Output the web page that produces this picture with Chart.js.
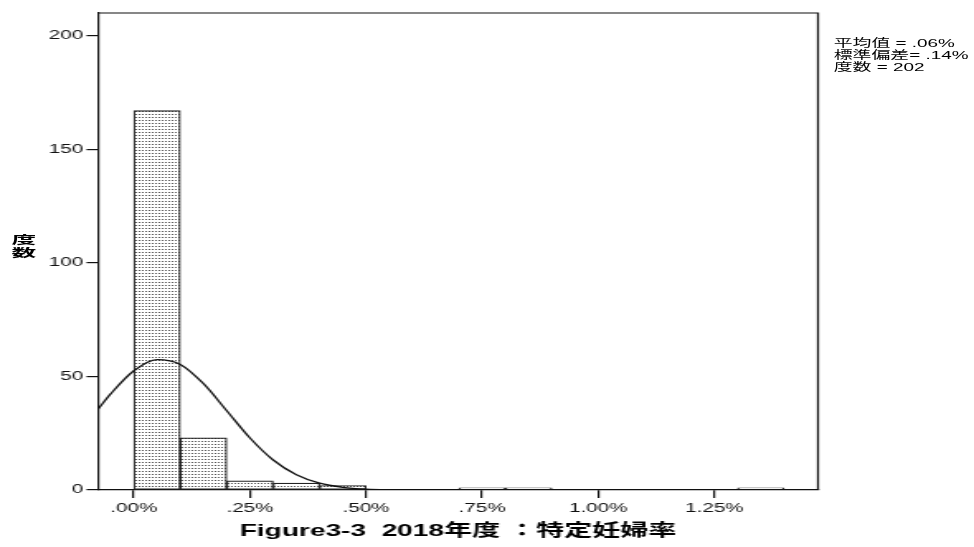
<!DOCTYPE html>
<html>
<head>
<meta charset="utf-8">
<script src="https://cdn.jsdelivr.net/npm/chart.js@4.4.0/dist/chart.umd.min.js"></script>
<style>
  html, body { margin: 0; padding: 0; background: #fff; overflow: hidden; }
  /* the reference is stretched sideways, so draw narrow and stretch */
  #stage { position: absolute; left: 0; top: 0; width: 590px; height: 547px;
           transform: scaleX(1.6508); transform-origin: 0 0; }
  #chart { position: absolute; left: 0; top: 0; }
  .ylab { position: absolute; left: 7px; top: 234px; color: #000;
          transform: scaleX(1.3); transform-origin: 0 0;
          font: bold 11.5px/13px "Liberation Sans", "Noto Sans CJK JP", sans-serif; }
  .stats { position: absolute; left: 505px; top: 36.5px; color: #000; white-space: pre;
           transform: scaleX(1.04); transform-origin: 0 0;
           font: 11px/12px "Liberation Sans", "Noto Sans CJK JP", sans-serif; }
</style>
</head>
<body>
<div id="stage">
  <canvas id="chart" width="590" height="547"></canvas>
  <div class="ylab">度<br>数</div>
  <div class="stats">平均值 = .06%
標準偏差= .14%
度数 = 202</div>
</div>
<script>
// histogram bins (percent) and counts
const binCenters = [0.05, 0.15, 0.25, 0.35, 0.45, 0.75, 0.85, 1.35];
const binCounts = [167, 23, 4, 3, 2, 1, 1, 1];

// normal curve
const curveX = [-0.077, -0.05, 0, 0.05, 0.1, 0.15, 0.2, 0.25, 0.3, 0.35, 0.4, 0.45, 0.5, 0.55, 0.6, 1.473];
const curveY = [35.6, 42.3, 52.5, 57.4, 55.3, 46.8, 34.9, 22.9, 13.2, 6.7, 3.0, 1.2, 0.4, 0.1, 0, 0];

const xTicks = [0, 0.25, 0.5, 0.75, 1.0, 1.25];
const xTickLabels = ['.00%', '.25%', '.50%', '.75%', '1.00%', '1.25%'];
const yTicks = [0, 50, 100, 150, 200];

const xTitle = 'Figure3-3  2018年度 ：特定妊婦率';

const fontFamily = '"Liberation Sans", "Noto Sans CJK JP", sans-serif';

const canvas = document.getElementById('chart');
const ctx = canvas.getContext('2d');

// dotted fill like the SPSS bars
function makeDots() {
    const tile = document.createElement('canvas');
    tile.width = 2;
    tile.height = 3;
    const g = tile.getContext('2d');
    g.fillStyle = '#ffffff';
    g.fillRect(0, 0, 2, 3);
    g.fillStyle = '#555555';
    g.fillRect(0, 0, 1, 1);
    return ctx.createPattern(tile, 'repeat');
}

const frame = {
    id: 'frame',
    afterDatasetsDraw(chart) {
        const a = chart.chartArea;
        const c = chart.ctx;
        c.save();
        c.strokeStyle = '#111';
        c.lineWidth = 1.2;
        c.beginPath();
        c.moveTo(a.left, a.top);
        c.lineTo(a.right, a.top);
        c.lineTo(a.right, a.bottom);
        c.stroke();
        c.restore();
    }
};

new Chart(ctx, {
    type: 'bar',
    data: {
        datasets: [{
            type: 'bar',
            data: binCenters.map((x, i) => ({ x: x, y: binCounts[i] })),
            backgroundColor: makeDots(),
            borderColor: '#222',
            borderWidth: 1.2,
            borderSkipped: false,
            barPercentage: 1,
            categoryPercentage: 1,
            order: 2
        }, {
            type: 'line',
            data: curveX.map((x, i) => ({ x: x, y: curveY[i] })),
            borderColor: '#111',
            borderWidth: 1.3,
            pointRadius: 0,
            fill: false,
            cubicInterpolationMode: 'monotone',
            order: 1
        }]
    },
    options: {
        responsive: false,
        animation: false,
        layout: { padding: { left: 0, right: 94.5, top: 13, bottom: 0 } },
        plugins: { legend: { display: false }, tooltip: { enabled: false } },
        scales: {
            x: {
                type: 'linear',
                min: -0.077,
                max: 1.473,
                offset: false,
                afterBuildTicks: s => { s.ticks = xTicks.map(v => ({ value: v })); },
                afterFit: s => { s.height = 57; },
                grid: { offset: false, drawOnChartArea: false, drawTicks: true, tickLength: 8, color: '#111', lineWidth: 1.2 },
                border: { display: true, color: '#111', width: 1.2 },
                ticks: {
                    padding: 3,
                    maxRotation: 0,
                    autoSkip: false,
                    color: '#111',
                    font: { family: fontFamily, size: 12.5 },
                    callback: (v, i) => xTickLabels[i]
                },
                title: {
                    display: true,
                    text: xTitle,
                    color: '#000',
                    padding: { top: 0, bottom: 5 },
                    font: { family: fontFamily, size: 17, weight: 'bold' }
                }
            },
            y: {
                min: 0,
                max: 210,
                afterBuildTicks: s => { s.ticks = yTicks.map(v => ({ value: v })); },
                afterFit: s => { s.width = 59.4; },
                grid: { drawOnChartArea: false, drawTicks: true, tickLength: 7, color: '#111', lineWidth: 1.2 },
                border: { display: true, color: '#111', width: 1.2 },
                ticks: {
                    padding: 2,
                    color: '#111',
                    font: { family: fontFamily, size: 12.5 }
                }
            }
        }
    },
    plugins: [frame]
});
</script>
</body>
</html>
